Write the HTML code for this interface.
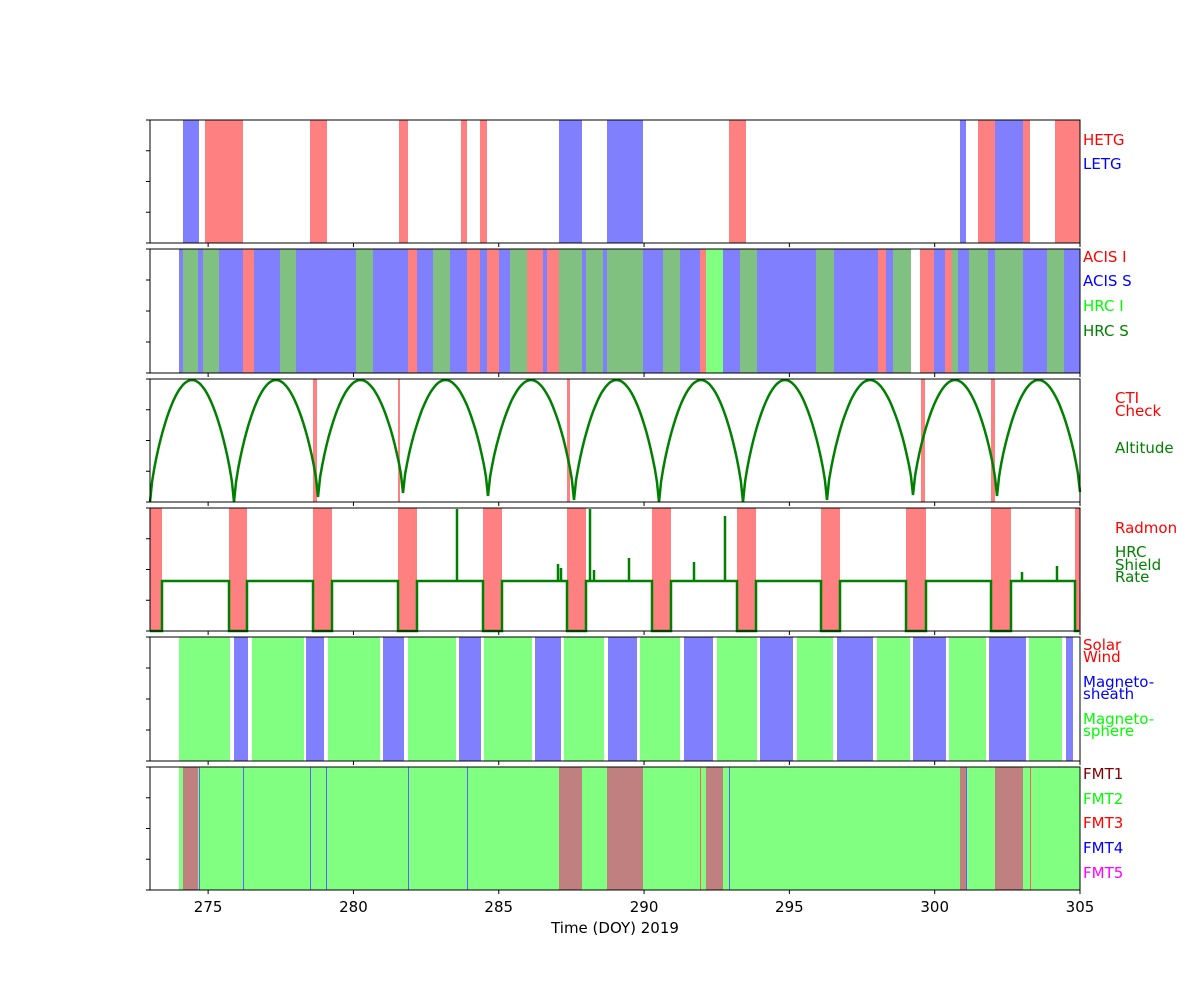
<!DOCTYPE html>
<html><head><meta charset="utf-8"><style>
body{margin:0;background:#fff;width:1200px;height:1000px;overflow:hidden}
text{font-family:"DejaVu Sans","Liberation Sans",sans-serif;font-size:15px}
</style></head><body>
<svg id="s" width="1200" height="1000" xmlns="http://www.w3.org/2000/svg"></svg>
<script>
const S=document.getElementById('s');let h='';
const P=[[120,243],[249,373],[379,502],[508,631],[637,761],[767,890]];
function R(x1,x2,p,c){h+=`<rect x="${x1}" y="${P[p][0]}" width="${x2-x1}" height="${P[p][1]-P[p][0]}" fill="${c}"/>`;}
const r='#ff8080',b='#8080ff',g='#80c080',lg='#80ff80',br='#c08080';
[[183,199,b],[205,243,r],[310,327,r],[399,408,r],[461,467,r],[480,487,r],[559,582,b],[607,643,b],[729,746,r],[960,966,b],[978,995,r],[995,1023,b],[1023,1030,r],[1055,1080,r]].forEach(a=>R(a[0],a[1],0,a[2]));
[[179,183,b],[183,198,g],[198,203,b],[203,219,g],[219,243,b],[243,254,r],[254,280,b],[280,296,g],[296,356,b],[356,373,g],[373,408,b],[408,417,r],[417,433,b],[433,450,g],[450,467,b],[467,480,r],[480,487,b],[487,499,r],[499,510,b],[510,527,g],[527,543,r],[543,547,b],[547,559,r],[559,582,g],[582,586,b],[586,603,g],[603,607,b],[607,643,g],[643,663,b],[663,680,g],[680,700,b],[700,706,r],[706,723,lg],[723,740,b],[740,757,g],[757,816,b],[816,834,g],[834,878,b],[878,886,r],[886,893,b],[893,911,g],[920,934,r],[934,945,b],[945,952,r],[952,958,g],[958,969,b],[969,988,g],[988,995,b],[995,1023,g],[1023,1047,b],[1047,1064,g],[1064,1080,b]].forEach(a=>R(a[0],a[1],1,a[2]));
[[313,317],[398,400],[567,570],[921,925],[991,995]].forEach(a=>R(a[0],a[1],2,r));
const rb=[[150,162],[229,247],[313,332],[398,417],[483,502],[567,586],[652,671],[737,756],[821,840],[906,926],[991,1011],[1075,1080]];
rb.forEach(a=>R(a[0],a[1],3,r));
const p5=[[179,230],[234,248],[252,304],[306,324],[328,380],[383,404],[408,456],[459,481],[484,532],[535,561],[564,604],[608,637],[640,680],[684,713],[717,757],[760,793],[797,833],[837,873],[877,910],[913,946],[949,986],[989,1026],[1029,1062],[1066,1073]];
p5.forEach((a,i)=>R(a[0],a[1],4,i%2?b:lg));
R(179,1080,5,lg);
[[183,198],[559,582],[607,643],[706,723],[960,966],[995,1023]].forEach(a=>R(a[0],a[1],5,br));
[199,243,310,326,408,467,729,966,1030].forEach(x=>R(x,x+1,5,'#6060ff'));
[700,1030].forEach(x=>R(x,x+1,5,'#ff6060'));
const mins=[150,234,318,403,488,574,659,743,827,913,997,1080];
const depth=[502,502,497,493,496,500,502,502,500,495,496,492];
let d='';
for(let k=0;k<mins.length-1;k++){const a=mins[k],c=mins[k+1];for(let i=0;i<=40;i++){const t=i/40;const x=a+(c-a)*t;const base=depth[k]+(depth[k+1]-depth[k])*t;const y=base-(base-380)*Math.pow(Math.sin(Math.PI*t),0.7);d+=(d?'L':'M')+x.toFixed(1)+' '+y.toFixed(1);}}
h+=`<path d="${d}" fill="none" stroke="#008000" stroke-width="2.5"/>`;
let q='M150 631';const lo=631,hi=581;
rb.forEach((a,i)=>{if(i==0){q+=`L162 631L162 ${hi}`;}else{q+=`L${a[0]} ${hi}L${a[0]} ${lo}L${Math.min(a[1],1079)} ${lo}`;if(a[1]<1079)q+=`L${a[1]} ${hi}`;}});
h+=`<path d="${q}" fill="none" stroke="#008000" stroke-width="2.5"/>`;
[[457,509],[558,564],[561,568],[590,509],[594,570],[629,558],[694,562],[725,516],[1022,572],[1057,566]].forEach(a=>h+=`<line x1="${a[0]}" y1="${hi}" x2="${a[0]}" y2="${a[1]}" stroke="#008000" stroke-width="2.5"/>`);
P.forEach(p=>{h+=`<rect x="150" y="${p[0]}" width="930" height="${p[1]-p[0]}" fill="none" stroke="#000" stroke-width="1"/>`;
for(let i=0;i<5;i++){const y=p[0]+(p[1]-p[0])*i/4;h+=`<line x1="146" y1="${y}" x2="150" y2="${y}" stroke="#000"/>`;}
for(let v=275;v<=305;v+=5){const x=150+(v-273)*29.0625;h+=`<line x1="${x}" y1="${p[1]}" x2="${x}" y2="${p[1]+4}" stroke="#000"/>`;}});
for(let v=275;v<=305;v+=5){const x=150+(v-273)*29.0625;h+=`<text x="${x}" y="912" text-anchor="middle">${v}</text>`;}
h+=`<text x="615" y="933" text-anchor="middle">Time (DOY) 2019</text>`;
const L=[[1083,145,'HETG','#f00'],[1083,169,'LETG','#00f'],[1083,262,'ACIS I','#f00'],[1083,286,'ACIS S','#00f'],[1083,311,'HRC I','#0f0'],[1083,336,'HRC S','#008000'],
[1115,403,'CTI','#f00'],[1115,416,'Check','#f00'],[1115,453,'Altitude','#008000'],[1115,533,'Radmon','#f00'],[1115,557,'HRC','#008000'],[1115,570,'Shield','#008000'],[1115,582,'Rate','#008000'],
[1083,650,'Solar','#f00'],[1083,662,'Wind','#f00'],[1083,687,'Magneto-','#00f'],[1083,699,'sheath','#00f'],[1083,724,'Magneto-','#0f0'],[1083,736,'sphere','#0f0'],
[1083,779,'FMT1','#800000'],[1083,804,'FMT2','#0f0'],[1083,828,'FMT3','#f00'],[1083,853,'FMT4','#00f'],[1083,878,'FMT5','#f0f']];
L.forEach(a=>h+=`<text x="${a[0]}" y="${a[1]}" fill="${a[3]}">${a[2]}</text>`);
S.innerHTML=h;
</script>
</body></html>
